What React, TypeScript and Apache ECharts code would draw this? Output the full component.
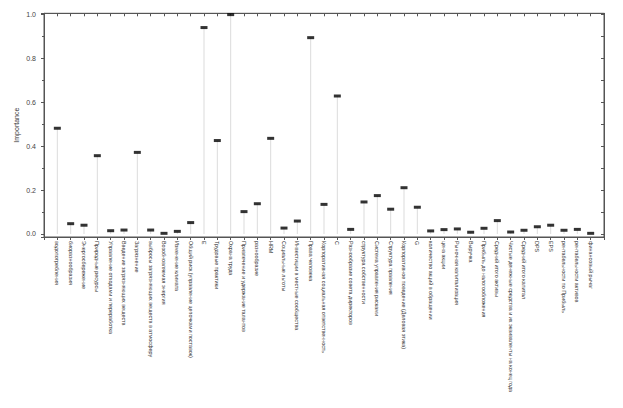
import React, { useEffect, useRef } from "react";
import * as echarts from "echarts";

const categories: string[] = [
  "водопотребления",
  "биоразнообразия",
  "Энергосбережение",
  "Природные ресурсы",
  "Управление отходами и переработка",
  "Введение загрязняющих веществ",
  "Загрязнение",
  "выбросы загрязняющих веществ в атмосферу",
  "Возобновляемая энергия",
  "Изменение климата",
  "Общий риск (управление цепочками поставок)",
  "E",
  "Трудовые практики",
  "Охрана труда",
  "Привлечение и удержание талантов",
  "разнообразие",
  "HRM",
  "Социальные льготы",
  "Инвестиции в местные сообщества",
  "Права человека",
  "Корпоративная социальная ответственность",
  "С",
  "Разнообразие совета директоров",
  "структура собственности",
  "Система управления рисками",
  "Структура правления",
  "Корпоративное поведение (Деловая этика)",
  "G",
  "количество акций в обращении",
  "цена акции",
  "Рыночная капитализация",
  "Выручка",
  "Прибыль до налогообложения",
  "Средний итого активы",
  "Чистые денежные средства и их эквиваленты на конец года",
  "Средний итого капитал",
  "DPS",
  "EPS",
  "рентабельности по Прибыль",
  "рентабельности активов",
  "финансовый рычаг",
];

const importance: number[] = [
  0.482, 0.047, 0.04, 0.357, 0.015, 0.018, 0.372, 0.018, 0.003, 0.012, 0.052,
  0.941, 0.426, 1.0, 0.102, 0.138, 0.436, 0.027, 0.059, 0.895, 0.135, 0.629,
  0.021, 0.146, 0.175, 0.113, 0.211, 0.122, 0.014, 0.02, 0.023, 0.008, 0.026,
  0.061, 0.009, 0.017, 0.033, 0.04, 0.017, 0.021, 0.003,
];

const yTicks: number[] = [0, 0.2, 0.4, 0.6, 0.8, 1.0];

export default function App() {
  const ref = useRef<HTMLDivElement>(null);
  useEffect(() => {
    if (!ref.current) return;
    const chart = echarts.init(ref.current, null, { renderer: "svg" });
    const axisColor = "#555";
    const font = "Liberation Sans, Arial, sans-serif";
    const pts = importance.map((v, i) => [i, v]);
    const yMin = -0.0137;
    const yMax = 1.006;
    chart.setOption({
      animation: false,
      backgroundColor: "#fff",
      grid: {
        left: 44,
        right: 19,
        top: 13.3,
        bottom: 171,
        containLabel: false,
        outerBoundsMode: "none",
        show: true,
        borderColor: axisColor,
        borderWidth: 1,
        backgroundColor: "transparent",
      },
      xAxis: [
        {
          type: "value",
          position: "bottom",
          min: -1,
          max: 41,
          interval: 1,
          splitLine: { show: false },
          axisLine: { show: true, onZero: false, lineStyle: { color: axisColor, width: 1 } },
          axisTick: { show: true, inside: false, length: 3, lineStyle: { color: axisColor } },
          axisLabel: {
            show: true,
            rotate: -90,
            margin: 4,
            fontSize: 5.4,
            fontFamily: font,
            color: "#333",
            formatter: (v: number) => {
              const i = Math.round(v);
              return i >= 0 && i < categories.length ? categories[i] : "";
            },
          },
        },
        {
          type: "value",
          position: "top",
          min: -1,
          max: 41,
          interval: 1,
          splitLine: { show: false },
          axisLine: { show: true, onZero: false, lineStyle: { color: axisColor, width: 1 } },
          axisTick: { show: true, inside: true, length: 3, lineStyle: { color: axisColor } },
          axisLabel: { show: true, formatter: () => "" },
        },
      ],
      yAxis: [
        {
          type: "value",
          position: "left",
          min: yMin,
          max: yMax,
          splitNumber: 5,
          name: "Importance",
          nameLocation: "middle",
          nameGap: 24,
          nameMoveOverlap: false,
          nameTextStyle: { fontSize: 7, fontFamily: font, color: "#333" },
          splitLine: { show: false },
          axisLine: { show: true, onZero: false, lineStyle: { color: axisColor, width: 1 } },
          axisTick: { show: true, inside: false, length: 3, lineStyle: { color: axisColor } },
          minorTick: { show: true, splitNumber: 2, length: 2, lineStyle: { color: axisColor } },
          axisLabel: {
            fontSize: 7,
            fontFamily: font,
            color: "#444",
            margin: 8,
            showMinLabel: false,
            showMaxLabel: false,
            formatter: (v: number) =>
              yTicks.some((t) => Math.abs(t - v) < 1e-6) ? v.toFixed(1) : "",
          },
        },
        {
          type: "value",
          position: "right",
          min: yMin,
          max: yMax,
          splitNumber: 10,
          splitLine: { show: false },
          axisLine: { show: true, onZero: false, lineStyle: { color: axisColor, width: 1 } },
          axisTick: { show: true, inside: true, length: 3, lineStyle: { color: axisColor } },
          axisLabel: { show: true, formatter: () => "" },
        },
      ],
      series: [
        {
          type: "bar",
          xAxisIndex: 0,
          yAxisIndex: 0,
          barWidth: 1,
          data: pts,
          itemStyle: { color: "#dcdcdc" },
          silent: true,
        },
        {
          type: "scatter",
          xAxisIndex: 0,
          yAxisIndex: 0,
          symbol: "rect",
          symbolSize: [7, 3],
          data: pts,
          itemStyle: { color: "#000" },
          z: 3,
        },
        {
          type: "scatter",
          xAxisIndex: 1,
          yAxisIndex: 1,
          symbolSize: 0,
          data: pts,
          itemStyle: { opacity: 0 },
          silent: true,
        },
      ],
    });
    return () => chart.dispose();
  }, []);
  return (
    <div
      ref={ref}
      style={{ position: "fixed", left: 0, top: 0, width: 623, height: 408 }}
    />
  );
}
